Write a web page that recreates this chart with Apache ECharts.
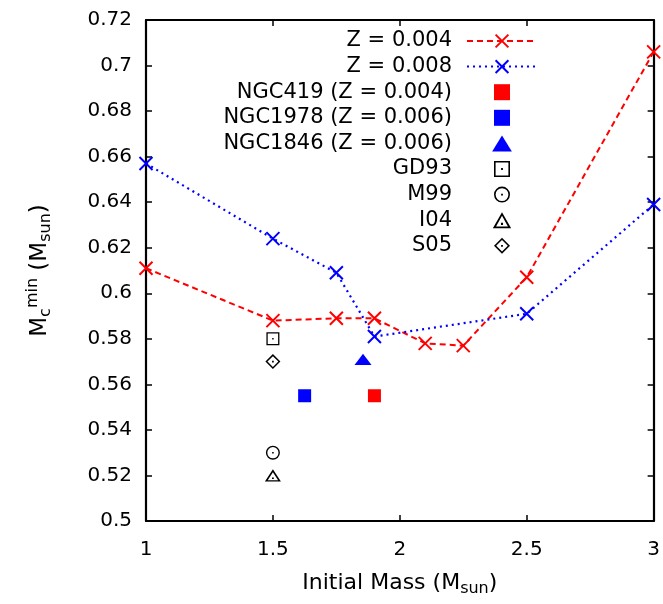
<!DOCTYPE html>
<html><head><meta charset="utf-8">
<script src="https://cdn.jsdelivr.net/npm/echarts@6/dist/echarts.min.js"></script>
<style>html,body{margin:0;padding:0;background:#fff}#c{width:663px;height:604px}</style>
</head><body><div id="c"></div>
<script>
// ---- data ----
const xTicks = [1, 1.5, 2, 2.5, 3];
const yTicks = [0.5, 0.52, 0.54, 0.56, 0.58, 0.6, 0.62, 0.64, 0.66, 0.68, 0.7, 0.72];
const z004Mass = [1, 1.5, 1.75, 1.9, 2.1, 2.25, 2.5, 3];
const z004Mc   = [0.611, 0.588, 0.589, 0.589, 0.578, 0.577, 0.607, 0.706];
const z008Mass = [1, 1.5, 1.75, 1.9, 2.5, 3];
const z008Mc   = [0.657, 0.624, 0.609, 0.581, 0.591, 0.639];
const ngc419  = [[1.9, 0.555]];
const ngc1978 = [[1.625, 0.555]];
const ngc1846 = [[1.855, 0.571]];
const gd93 = [[1.5, 0.580]];
const m99  = [[1.5, 0.530]];
const i04  = [[1.5, 0.520]];
const s05  = [[1.5, 0.570]];
const names = ['Z = 0.004', 'Z = 0.008', 'NGC419 (Z = 0.004)', 'NGC1978 (Z = 0.006)',
               'NGC1846 (Z = 0.006)', 'GD93', 'M99', 'I04', 'S05'];

const zip = (a, b) => a.map((v, i) => [v, b[i]]);
const FONT = '"DejaVu Sans", "Liberation Sans", Arial, sans-serif';
const CROSS = 'path://M0,0L10,10M10,0L0,10';
const SQ = 'path://M0,0H10V10H0Z';
const TRI = 'path://M8,0L16,13L0,13Z';
const SQ_DOT = 'path://M0,0H16V16H0Z M1.6,1.6V14.4H14.4V1.6Z M7.1,7.1H8.9V8.9H7.1Z';
const CIR_DOT = 'path://M8,0A8,8 0 1,1 8,16A8,8 0 1,1 8,0Z M8,1.6A6.4,6.4 0 1,0 8,14.4A6.4,6.4 0 1,0 8,1.6Z M7.1,7.1H8.9V8.9H7.1Z';
const TRI_DOT = 'path://M8,0L16,14L0,14Z M8,3.2L2.8,12.5H13.2Z M7.1,9.3H8.9V11.1H7.1Z';
const DIA_DOT = 'path://M8,0L16,8L8,16L0,8Z M8,2.2L2.2,8L8,13.8L13.8,8Z M7.1,7.1H8.9V8.9H7.1Z';

function pointSeries(name, data, sym, size, color) {
  return { name, type: 'scatter', data, symbol: sym, symbolSize: size, symbolKeepAspect: true,
    itemStyle: { color, opacity: 1 } };
}

const chart = echarts.init(document.getElementById('c'), null, { renderer: 'canvas' });
const axisLine = { show: true, lineStyle: { color: '#000', width: 2.2 } };
const tick = { show: true, inside: true, length: 6, lineStyle: { color: '#000', width: 1.5 } };
const subStyle = (pad) => ({ fontSize: 16, fontFamily: FONT, padding: pad, color: '#000' });
const option = {
  backgroundColor: '#fff',
  animation: false,
  textStyle: { fontFamily: FONT },
  grid: { left: 146, right: 8, top: 20, bottom: 83, containLabel: false },
  legend: {
    orient: 'vertical', align: 'right', right: 125, top: 30.5, padding: 0,
    itemWidth: 70, itemHeight: 16, itemGap: 4.6, symbolKeepAspect: true,
    data: names,
    textStyle: { fontFamily: FONT, fontSize: 21, lineHeight: 21, color: '#000', padding: [0, 10, 0, 0] },
    selectedMode: false
  },
  xAxis: [{
    type: 'value', min: xTicks[0], max: xTicks[xTicks.length - 1], interval: 0.5,
    name: 'Initial Mass (M{s|sun})', nameLocation: 'middle', nameGap: 49,
    nameTextStyle: { fontFamily: FONT, fontSize: 22, color: '#000',
      rich: { s: subStyle([11, 0, 0, 0]) } },
    axisLine, axisTick: tick, splitLine: { show: false },
    axisLabel: { fontFamily: FONT, fontSize: 20, color: '#000', margin: 19,
      formatter: v => String(v) }
  }, {
    type: 'value', position: 'top', min: xTicks[0], max: xTicks[xTicks.length - 1], interval: 0.5,
    axisLine, axisTick: tick, splitLine: { show: false }, axisLabel: { show: false }
  }],
  yAxis: [{
    type: 'value', min: yTicks[0], max: yTicks[yTicks.length - 1], interval: 0.02,
    name: 'M{c|c}{m|min} (M{s|sun})', nameLocation: 'middle', nameGap: 90, nameRotate: 90,
    nameTextStyle: { fontFamily: FONT, fontSize: 23, color: '#000',
      rich: {
        c: subStyle([11, 0, 0, 0]),
        m: subStyle([0, 0, 15, 0]),
        s: subStyle([11, 0, 0, 0])
      } },
    axisLine, axisTick: tick, splitLine: { show: false },
    axisLabel: { fontFamily: FONT, fontSize: 20, color: '#000', margin: 14,
      formatter: v => String(+v.toFixed(2)) }
  }, {
    type: 'value', position: 'right', min: yTicks[0], max: yTicks[yTicks.length - 1], interval: 0.02,
    axisLine, axisTick: tick, splitLine: { show: false }, axisLabel: { show: false }
  }],
  series: [
    { name: names[0], type: 'line', data: zip(z004Mass, z004Mc), symbol: CROSS, symbolSize: 13,
      showAllSymbol: true, clip: false,
      lineStyle: { color: '#ff0000', width: 2, type: [6, 4] },
      itemStyle: { color: '#ff0000', borderColor: '#ff0000', borderWidth: 2 } },
    { name: names[1], type: 'line', data: zip(z008Mass, z008Mc), symbol: CROSS, symbolSize: 13,
      showAllSymbol: true, clip: false,
      lineStyle: { color: '#0000ff', width: 2.2, type: [2, 4] },
      itemStyle: { color: '#0000ff', borderColor: '#0000ff', borderWidth: 2 } },
    pointSeries(names[2], ngc419, SQ, 13, '#ff0000'),
    pointSeries(names[3], ngc1978, SQ, 13, '#0000ff'),
    pointSeries(names[4], ngc1846, TRI, [17, 14], '#0000ff'),
    pointSeries(names[5], gd93, SQ_DOT, 13, '#000'),
    pointSeries(names[6], m99, CIR_DOT, 14, '#000'),
    pointSeries(names[7], i04, TRI_DOT, [16, 14], '#000'),
    pointSeries(names[8], s05, DIA_DOT, 15, '#000')
  ]
};
chart.setOption(option);
</script></body></html>
